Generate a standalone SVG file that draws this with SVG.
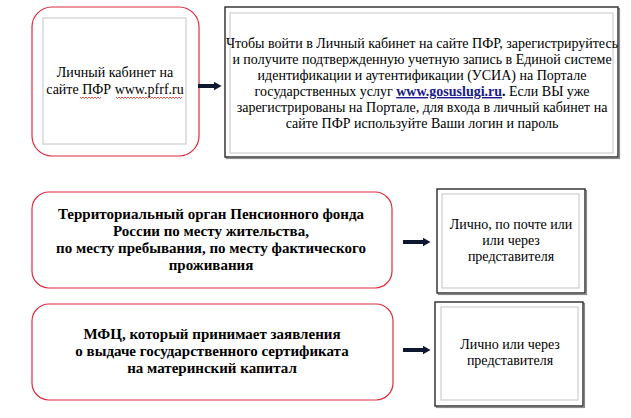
<svg xmlns="http://www.w3.org/2000/svg" width="631" height="418" viewBox="0 0 631 418">
<style>
.red{fill:#fff;stroke:#dc2a3c;stroke-width:1.2}
.outer{fill:#fff;stroke:#2a2a2a;stroke-width:1.4}
.shadow{fill:none;stroke:#8a8a8a;stroke-width:1.2}
.inner{fill:none;stroke:#c4c4c4;stroke-width:1}
.t{font-family:"Liberation Serif","DejaVu Serif",serif;font-size:14px;fill:#000;text-anchor:middle}
.b{font-family:"Liberation Serif","DejaVu Serif",serif;font-size:15px;font-weight:bold;fill:#000;text-anchor:middle}
.link{font-weight:bold;fill:#1a1a8c;text-decoration:underline}
.arrow{stroke:#0d1830;stroke-width:4;fill:none}
.sq{fill:none;stroke:#e02020;stroke-width:0.8}
</style>
<defs>
<marker id="ah" markerUnits="userSpaceOnUse" markerWidth="8" markerHeight="9" refX="0.5" refY="4.5" orient="auto">
<path d="M0,0 L8,4.5 L0,9 z" fill="#0d1830"/>
</marker>
</defs>

<g id="node-lk">
<rect class="red" x="32" y="7" width="167" height="149" rx="20" ry="20"/>
<rect class="inner" x="43" y="18" width="143" height="126"/>
<text class="t" x="115" y="77">Личный кабинет на</text>
<text class="t" x="115" y="94">сайте ПФР www.pfrf.ru</text>
<path class="sq" d="M80,97 l1.5,1.5 l1.5,-1.5 l1.5,1.5 l1.5,-1.5 l1.5,1.5 l1.5,-1.5 l1.5,1.5 l1.5,-1.5 l1.5,1.5 l1.5,-1.5 l1.5,1.5 l1.5,-1.5 l1.5,1.5 l1.5,-1.5"/>
<path class="sq" d="M116,97 l1.5,1.5 l1.5,-1.5 l1.5,1.5 l1.5,-1.5 l1.5,1.5 l1.5,-1.5 l1.5,1.5 l1.5,-1.5 l1.5,1.5 l1.5,-1.5 l1.5,1.5 l1.5,-1.5 l1.5,1.5 l1.5,-1.5 l1.5,1.5 l1.5,-1.5 l1.5,1.5 l1.5,-1.5 l1.5,1.5 l1.5,-1.5 l1.5,1.5 l1.5,-1.5 l1.5,1.5 l1.5,-1.5 l1.5,1.5 l1.5,-1.5 l1.5,1.5 l1.5,-1.5 l1.5,1.5 l1.5,-1.5 l1.5,1.5 l1.5,-1.5 l1.5,1.5 l1.5,-1.5 l1.5,1.5 l1.5,-1.5 l1.5,1.5 l1.5,-1.5 l1.5,1.5 l1.5,-1.5 l1.5,1.5 l1.5,-1.5 l1.5,1.5 l1.5,-1.5"/>
</g>

<g id="node-info">
<rect class="shadow" x="226.5" y="8.5" width="393" height="150"/>
<rect class="outer" x="225" y="7" width="393" height="150"/>
<rect class="inner" x="230" y="13" width="383" height="140"/>
<text class="t" x="422" y="48">Чтобы войти в Личный кабинет на сайте ПФР, зарегистрируйтесь</text>
<text class="t" x="422" y="64">и получите подтвержденную учетную запись в Единой системе</text>
<text class="t" x="422" y="80">идентификации и аутентификации (УСИА) на Портале</text>
<text class="t" x="422" y="96">государственных услуг <tspan class="link">www.gosuslugi.ru</tspan><tspan font-weight="bold">.</tspan> Если ВЫ уже</text>
<text class="t" x="422" y="112">зарегистрированы на Портале, для входа в личный кабинет на</text>
<text class="t" x="422" y="128">сайте ПФР используйте Ваши логин и пароль</text>
</g>

<g id="node-territorial">
<rect class="red" x="32" y="192" width="360" height="96" rx="17" ry="17"/>
<text class="b" x="211" y="219">Территориальный орган Пенсионного фонда</text>
<text class="b" x="211" y="236">России по месту жительства,</text>
<text class="b" x="211" y="253">по месту пребывания, по месту фактического</text>
<text class="b" x="211" y="270">проживания</text>
</g>

<g id="node-personal1">
<rect class="shadow" x="438.5" y="190.5" width="148" height="104"/>
<rect class="outer" x="437" y="189" width="148" height="104"/>
<rect class="inner" x="442" y="194" width="137" height="94"/>
<text class="t" x="511" y="229">Лично, по почте или</text>
<text class="t" x="511" y="245">или через</text>
<text class="t" x="511" y="261">представителя</text>
</g>

<g id="node-mfc">
<rect class="red" x="32" y="304" width="361" height="96" rx="17" ry="17"/>
<text class="b" x="212" y="339">МФЦ, который принимает заявления</text>
<text class="b" x="212" y="356">о выдаче государственного сертификата</text>
<text class="b" x="212" y="373">на материнский капитал</text>
</g>

<g id="node-personal2">
<rect class="shadow" x="436.5" y="303.5" width="148" height="104"/>
<rect class="outer" x="435" y="302" width="148" height="104"/>
<rect class="inner" x="441" y="307" width="137" height="93"/>
<text class="t" x="510" y="349">Лично или через</text>
<text class="t" x="510" y="365">представителя</text>
</g>

<g id="connectors">
<line class="arrow" x1="198" y1="86" x2="214" y2="86" marker-end="url(#ah)"/>
<line class="arrow" x1="403" y1="242" x2="423" y2="242" marker-end="url(#ah)"/>
<line class="arrow" x1="403" y1="350" x2="423" y2="350" marker-end="url(#ah)"/>
</g>
</svg>
